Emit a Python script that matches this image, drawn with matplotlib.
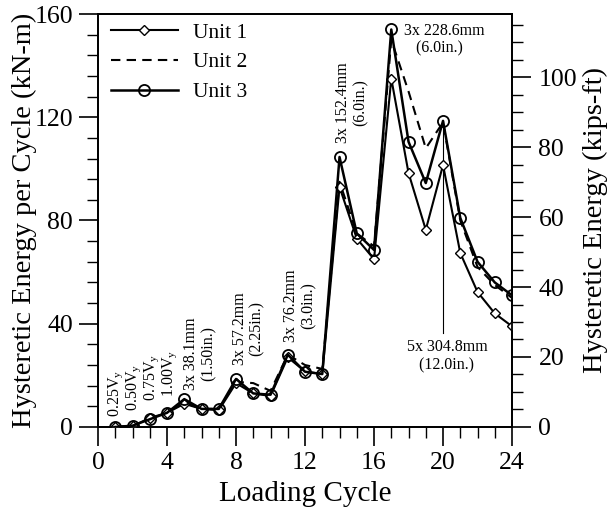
import matplotlib
matplotlib.use('Agg')
import matplotlib.pyplot as plt
from matplotlib.ticker import MultipleLocator

plt.rcParams['font.family'] = ['Liberation Serif', 'DejaVu Serif']

# ciclos de carga e energia histeretica por ciclo (kN-m)
ciclos = list(range(1, 25))
unit1 = [0, 0.3, 3.5, 5.5, 9, 7, 6.5, 17, 13, 12, 27, 21.5, 20.5,
         93, 73, 65, 135, 98.4, 76.4, 101.5, 67.4, 52.3, 44, 39]
unit2 = [0, 0.4, 3.2, 5.5, 9.5, 7, 7, 17.5, 17, 14, 28, 24, 22.5,
         95, 75, 70, 150, 130, 108, 118, 80, 62, 55, 50]
unit3 = [0, 0.5, 3, 5.5, 10.8, 7, 7, 18.6, 13, 12.5, 28, 21.4, 20.5,
         104.6, 75, 68.6, 154, 110.5, 94.5, 118.6, 81, 64, 56, 51]

KN_POR_KIP = 1.3558

fig = plt.figure(figsize=(6.1, 5.15), dpi=100)
ax = fig.add_axes([0.1607, 0.1709, 0.6787, 0.8019])

ax.plot(ciclos, unit1, color='black', lw=1.5, marker='D', ms=5,
        mfc='white', mec='black', mew=1.0, label='Unit 1', zorder=3)
ax.plot(ciclos, unit2, color='black', lw=1.5, ls=(0, (4.5, 3)),
        label='Unit 2', zorder=2)
ax.plot(ciclos, unit3, color='black', lw=1.8, marker='o', ms=8,
        mfc='none', mec='black', mew=1.3, label='Unit 3', zorder=4)

ax.set_xlim(0, 24)
ax.set_ylim(0, 160)
ax.xaxis.set_major_locator(MultipleLocator(4))
ax.xaxis.set_minor_locator(MultipleLocator(1))
ax.yaxis.set_major_locator(MultipleLocator(40))
ax.yaxis.set_minor_locator(MultipleLocator(8))
ax.tick_params(which='major', length=14, width=1.2, labelsize=18.5,
               direction='out', pad=4)
ax.tick_params(which='minor', length=8, width=1.0, direction='out')
ax.tick_params(axis='y', right=False)
ax.set_xlabel('Loading Cycle', fontsize=21, labelpad=5)
ax.set_ylabel('Hysteretic Energy per Cycle (kN-m)', fontsize=20.5, labelpad=-2)
for s in ax.spines.values():
    s.set_linewidth(1.3)

# eixo direito em kips-ft
ax2 = ax.twinx()
ax2.set_ylim(0, 160 / KN_POR_KIP)
ax2.yaxis.set_major_locator(MultipleLocator(20))
ax2.yaxis.set_minor_locator(MultipleLocator(5))
ax2.tick_params(which='major', length=14, width=1.2, labelsize=18.5,
                direction='out', pad=5)
ax2.tick_params(which='minor', length=8, width=1.0, direction='out')
ax2.set_ylabel('Hysteretic Energy (kips-ft)', fontsize=20.5, rotation=90, labelpad=4)
for s in ax2.spines.values():
    s.set_linewidth(1.3)

ax.legend(loc='upper left', frameon=False, fontsize=15.5, handlelength=3.1,
          handletextpad=0.7, labelspacing=0.45, borderaxespad=0.0,
          bbox_to_anchor=(0.01, 1.0))

# anotacoes dos niveis de carga
fs = 11.5
vy = [(1, 4, '0.25V$_\\mathregular{y}$'), (2.05, 6, '0.50V$_\\mathregular{y}$'),
      (3.1, 10, '0.75V$_\\mathregular{y}$'), (4.15, 11.5, '1.00V$_\\mathregular{y}$')]
for x, y, t in vy:
    ax.text(x, y, t, rotation=90, ha='center', va='bottom', fontsize=fs)

rot = [(5.9, 14.5, '3x 38.1mm\n(1.50in.)'),
       (8.7, 24, '3x 57.2mm\n(2.25in.)'),
       (11.7, 33, '3x 76.2mm\n(3.0in.)'),
       (14.7, 110, '3x 152.4mm\n(6.0in.)')]
for x, y, t in rot:
    ax.text(x, y, t, rotation=90, ha='center', va='bottom', fontsize=fs,
            multialignment='center', linespacing=1.1)

ax.text(20.05, 150, '3x 228.6mm\n   (6.0in.)', ha='center', va='center',
        fontsize=fs, multialignment='left', linespacing=1.15)
ax.plot([20, 20], [118.6, 36.5], color='black', lw=0.8, zorder=1)
ax.text(20.25, 27.5, '5x 304.8mm\n   (12.0in.)', ha='center', va='center',
        fontsize=fs, multialignment='left', linespacing=1.15)

plt.savefig('out.png', dpi=100)
